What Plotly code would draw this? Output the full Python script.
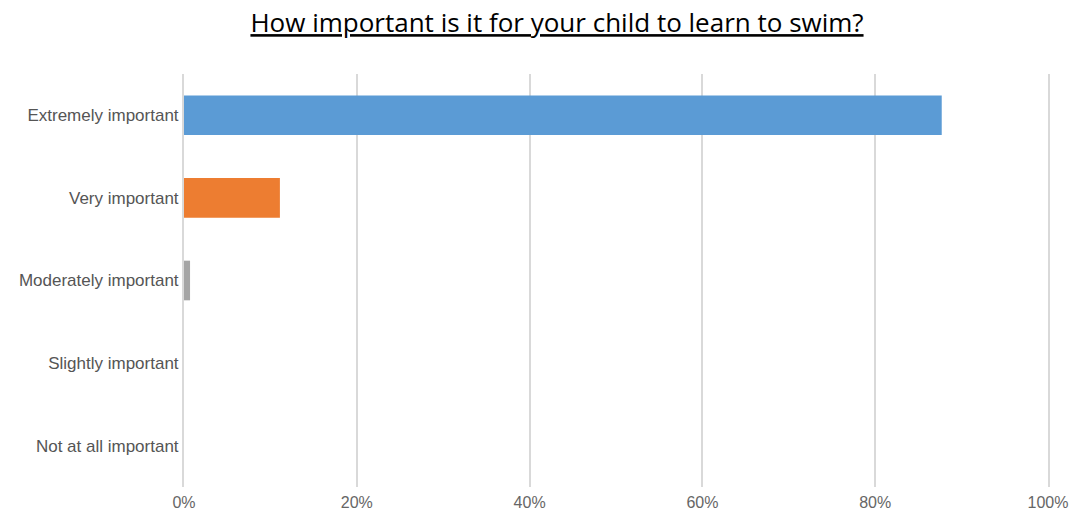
import plotly.graph_objects as go

categories = ["Extremely important", "Very important", "Moderately important",
              "Slightly important", "Not at all important"]
values = [87.7, 11.1, 0.7, 0.0, 0.0]
colors = ["#5B9BD5", "#ED7D31", "#A5A5A5", "#FFC000", "#4472C4"]
tick_vals = [0, 20, 40, 60, 80, 100]
tick_text = ["0%", "20%", "40%", "60%", "80%", "100%"]
title = "How important is it for your child to learn to swim?"

fig = go.Figure(go.Bar(
    x=values, y=categories, orientation="h",
    marker=dict(color=colors, line=dict(width=0)),
    width=0.48,
))

fig.update_layout(
    width=1071, height=510,
    margin=dict(l=184, r=23, t=74, b=23),
    paper_bgcolor="white", plot_bgcolor="white",
    showlegend=False,
    title=dict(text="<u>" + title + "</u>", x=557 / 1071, xanchor="center",
               y=1 - 23 / 510, yanchor="middle",
               font=dict(family="Open Sans", size=26, color="#000000")),
    font=dict(family="Liberation Sans, Arial", color="#555555"),
)
fig.update_xaxes(range=[0, 100], tickvals=tick_vals, ticktext=tick_text,
                 showgrid=True, gridcolor="#d9d9d9", gridwidth=2,
                 zeroline=False, showline=False, ticks="", automargin=False,
                 tickfont=dict(size=16, color="#666666"), ticklabelstandoff=4)
fig.update_yaxes(autorange="reversed", showgrid=False, zeroline=False,
                 showline=True, mirror=True, linecolor="#d9d9d9", linewidth=2,
                 ticks="", automargin=False,
                 tickfont=dict(size=17, color="#555555"), ticklabelstandoff=0)

fig.write_html("out.html")
